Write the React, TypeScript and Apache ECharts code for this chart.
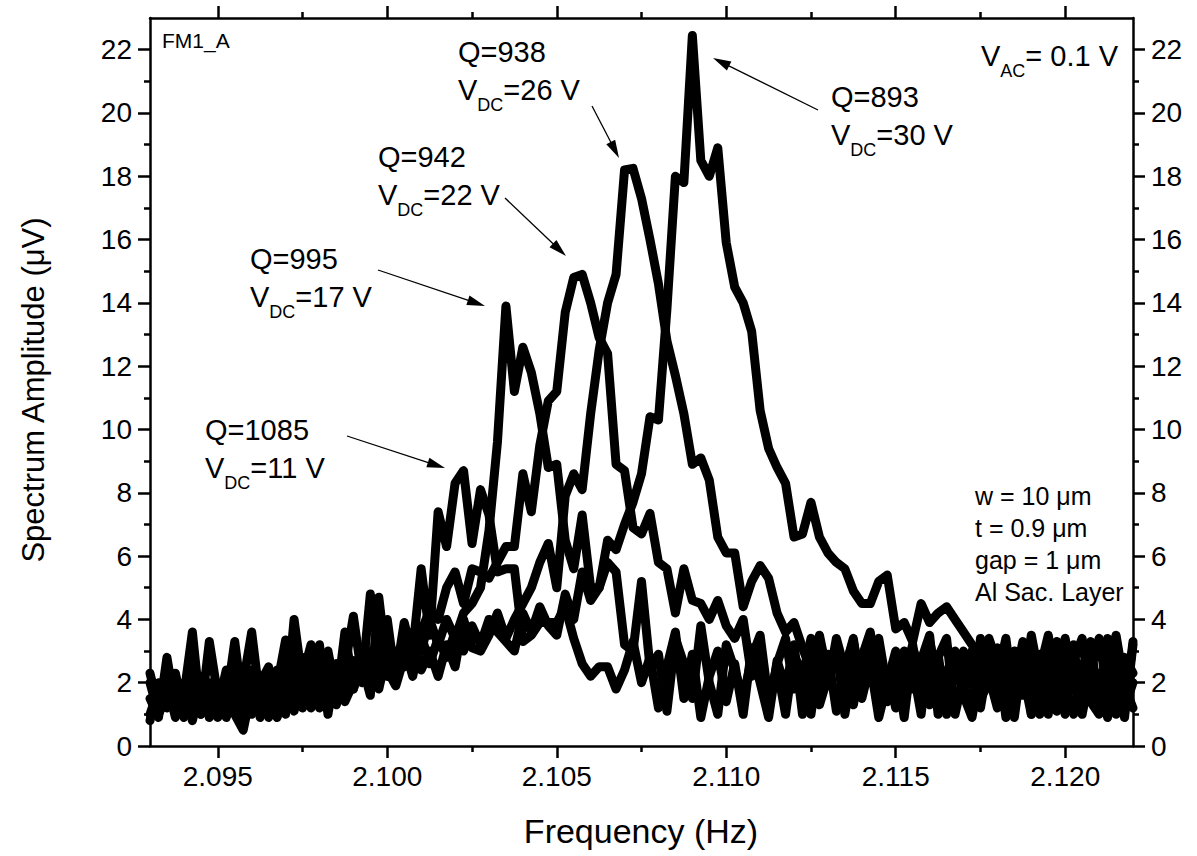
import React, { useEffect, useRef } from "react";
import * as echarts from "echarts";

// ---- data (frequency grid: uniform sampling of the spectrum analyser) ----
const FREQ_START = 2.093;
const FREQ_STEP = 0.00025;
const X_MIN = 2.093;
const X_MAX = 2.122;
const Y_MIN = 0;
const Y_MAX = 23;

const X_MAJOR = [2.095, 2.1, 2.105, 2.11, 2.115, 2.12];
const X_MINOR = [2.0975, 2.1025, 2.1075, 2.1125, 2.1175];
const Y_MAJOR = [0, 2, 4, 6, 8, 10, 12, 14, 16, 18, 20, 22];
const Y_MINOR = [1, 3, 5, 7, 9, 11, 13, 15, 17, 19, 21];

// Q=1085, VDC=11 V
const AMP_11V = [
  1.5, 0.9, 2.8, 1.2, 2.0, 0.8, 1.9, 1.0, 2.0, 1.4,
  3.3, 1.2, 2.1, 0.9, 1.8, 1.0, 2.4, 1.1, 2.2, 3.2,
  1.6, 2.2, 1.3, 2.5, 4.1, 2.2, 3.0, 1.8, 3.0, 2.4,
  3.3, 3.0, 5.6, 3.5, 7.4, 6.3, 8.3, 8.7, 6.4, 8.1,
  7.3, 5.5, 5.6, 5.6, 3.3, 3.5, 3.9, 3.9, 3.9, 4.4,
  3.4, 2.6, 2.2, 2.5, 2.5, 1.8, 2.4, 3.3, 2.0, 2.8,
  1.2, 2.5, 3.6, 1.5, 2.9, 0.9, 2.2, 3.0, 1.4, 2.6,
  1.0, 3.1, 2.0, 0.9, 2.7, 1.8, 3.2, 1.0, 2.3, 1.6,
  2.9, 1.1, 2.4, 3.4, 1.5, 2.6, 0.9, 2.0, 3.0, 1.3,
  2.5, 1.0, 3.3, 2.1, 1.2, 2.8, 1.6, 0.9, 2.4, 3.2,
  1.4, 2.2, 0.9, 2.9, 1.7, 2.5, 1.0, 3.3, 1.8, 1.0,
  2.6, 1.5, 2.3, 0.9, 3.0, 1.2, 2.0,
];

// Q=995, VDC=17 V
const AMP_17V = [
  2.3, 1.2, 2.0, 0.9, 1.6, 3.6, 1.0, 2.0, 1.2, 2.4,
  1.0, 0.5, 1.8, 1.0, 2.2, 1.4, 1.0, 4.0, 2.0, 1.2,
  2.4, 1.3, 2.6, 1.8, 2.7, 2.0, 4.8, 3.0, 2.2, 3.0,
  2.5, 3.5, 3.0, 4.0, 3.2, 4.0, 3.4, 4.2, 4.5, 5.0,
  6.8, 9.6, 13.9, 11.2, 12.6, 11.8, 10.5, 8.8, 8.9, 6.5,
  5.6, 7.3, 5.0, 5.0, 5.8, 5.5, 3.2, 3.0, 5.2, 2.5,
  2.9, 1.1, 3.4, 2.6, 1.5, 3.8, 2.0, 1.0, 3.2, 2.4,
  1.5, 2.8, 3.5, 1.4, 2.5, 1.0, 2.9, 2.2, 3.4, 1.3,
  2.2, 3.1, 1.0, 2.6, 1.8, 3.3, 2.1, 1.4, 2.7, 0.9,
  3.1, 2.3, 1.3, 2.8, 3.4, 1.0, 2.2, 3.0, 1.5, 2.0,
  3.1, 0.9, 2.4, 1.6, 3.5, 2.1, 2.8, 1.1, 2.5, 3.2,
  1.0, 2.4, 3.4, 1.7, 2.2, 0.9, 3.2,
];

// Q=942, VDC=22 V
const AMP_22V = [
  1.0, 1.8, 1.3, 2.2, 1.0, 2.3, 1.4, 1.2, 0.9, 2.0,
  1.5, 2.0, 3.6, 1.4, 1.0, 2.4, 1.2, 2.0, 1.3, 2.4,
  1.2, 3.0, 1.6, 2.2, 1.8, 3.0, 2.2, 3.3, 2.6, 2.2,
  3.9, 2.8, 3.6, 4.3, 4.0, 5.0, 5.5, 4.5, 5.6, 5.5,
  5.3, 5.8, 6.3, 6.3, 8.6, 7.4, 9.5, 10.9, 11.2, 13.7,
  14.8, 14.9, 14.0, 12.9, 12.4, 8.9, 8.7, 6.9, 6.7, 7.35,
  5.8, 5.6, 4.2, 5.6, 4.6, 4.5, 4.0, 4.6, 3.8, 3.4,
  4.0, 2.2, 3.0, 1.2, 2.6, 3.4, 1.8, 2.5, 1.0, 2.9,
  1.9, 3.4, 2.4, 1.3, 2.8, 3.6, 1.7, 2.4, 1.2, 3.0,
  1.8, 2.7, 3.5, 1.0, 2.3, 3.0, 2.0, 1.0, 3.4, 2.2,
  1.2, 2.9, 2.0, 3.3, 1.0, 2.4, 3.5, 1.9, 1.0, 2.7,
  3.4, 1.4, 1.0, 2.6, 3.5, 1.9, 1.2,
];

// Q=938, VDC=26 V
const AMP_26V = [
  2.0, 1.0, 1.6, 2.3, 1.0, 2.0, 1.0, 3.3, 1.6, 0.9,
  2.2, 1.0, 2.4, 1.6, 0.9, 1.9, 3.35, 1.4, 2.8, 1.6,
  1.3, 2.4, 1.4, 3.6, 1.8, 2.6, 1.6, 4.7, 2.4, 1.9,
  2.8, 3.6, 2.4, 3.0, 2.2, 3.2, 2.5, 4.0, 3.1, 3.0,
  3.5, 4.2, 3.4, 4.0, 4.5, 5.0, 5.8, 6.4, 5.0, 7.9,
  8.6, 8.1, 10.5, 12.5, 14.0, 14.9, 18.2, 18.25, 17.3, 16.0,
  14.6, 12.8, 11.7, 10.5, 8.9, 9.1, 8.4, 6.6, 6.1, 6.1,
  4.4, 5.2, 5.7, 5.3, 4.2, 3.6, 3.9, 3.1, 2.4, 3.5,
  2.2, 3.0, 2.5, 3.3, 2.0, 2.9, 3.4, 1.8, 2.6, 2.2,
  3.2, 1.4, 2.6, 2.9, 1.0, 2.4, 3.0, 2.0, 1.2, 2.8,
  2.2, 3.4, 1.3, 2.3, 2.9, 1.0, 2.2, 2.6, 3.4, 1.8,
  2.1, 3.3, 1.2, 2.5, 1.0, 2.8, 2.3,
];

// Q=893, VDC=30 V
const AMP_30V = [
  0.8, 2.0, 1.2, 1.8, 0.9, 1.6, 2.2, 0.9, 1.8, 1.0,
  2.2, 1.6, 1.0, 2.0, 2.5, 0.9, 1.8, 2.6, 1.2, 2.0,
  3.2, 1.0, 2.6, 1.4, 2.0, 2.4, 2.0, 2.6, 4.0, 2.0,
  3.2, 2.2, 3.5, 2.6, 3.4, 2.8, 3.6, 3.0, 3.8, 3.2,
  4.0, 3.6, 3.3, 3.0, 4.2, 3.6, 4.4, 3.8, 3.5, 4.8,
  4.0, 5.5, 4.6, 5.0, 6.5, 6.2, 7.0, 7.7, 8.6, 10.4,
  10.3, 13.8, 18.0, 17.8, 22.45, 18.5, 18.0, 18.9, 15.9, 14.5,
  14.0, 13.1, 10.6, 9.4, 8.8, 8.3, 6.6, 6.7, 7.7, 6.6,
  6.1, 5.8, 5.6, 4.9, 4.5, 4.5, 5.2, 5.4, 3.7, 3.9,
  3.3, 4.5, 3.9, 4.2, 4.4, 4.0, 3.6, 3.2, 2.8, 3.4,
  2.6, 1.6, 3.0, 2.3, 1.0, 2.9, 2.0, 1.4, 3.2, 2.5,
  1.8, 2.9, 1.3, 3.4, 2.4, 1.1, 3.3,
];

const SERIES_LIST = [
  { name: "VDC=11 V", values: AMP_11V },
  { name: "VDC=17 V", values: AMP_17V },
  { name: "VDC=22 V", values: AMP_22V },
  { name: "VDC=26 V", values: AMP_26V },
  { name: "VDC=30 V", values: AMP_30V },
];

// ---- styling ----
const FONT = "'Liberation Sans', Arial, Helvetica, sans-serif";
const AXIS_W = 2.5;
const MAJOR_LEN = 12;
const MINOR_LEN = 6;
const TICK_FONT = 28;
const ANN_FONT = 29;
const SUB_FONT = 18;

let measureCtx: CanvasRenderingContext2D | null = null;
function textWidth(text: string, size: number): number {
  if (!measureCtx) {
    const c = document.createElement("canvas");
    measureCtx = c.getContext("2d");
  }
  if (!measureCtx) return text.length * size * 0.55;
  measureCtx.font = `${size}px ${FONT}`;
  return measureCtx.measureText(text).width;
}

function txt(x: number, y: number, text: string, size: number, extra: any = {}) {
  return {
    type: "text",
    x,
    y,
    silent: true,
    z: 10,
    style: {
      text,
      fontSize: size,
      fontFamily: FONT,
      fill: "#000",
      align: "left",
      verticalAlign: "middle",
      ...extra,
    },
  };
}

function subLabel(x: number, y: number, main: string, sub: string, rest: string) {
  const w1 = textWidth(main, ANN_FONT);
  const w2 = textWidth(sub, SUB_FONT);
  return [
    txt(x, y, main, ANN_FONT),
    txt(x + w1, y + 15, sub, SUB_FONT),
    txt(x + w1 + w2, y, rest, ANN_FONT),
  ];
}

function arrow(x1: number, y1: number, x2: number, y2: number) {
  const ang = Math.atan2(y2 - y1, x2 - x1);
  const L = 18;
  const W = 5;
  const bx = x2 - L * Math.cos(ang);
  const by = y2 - L * Math.sin(ang);
  const px = -Math.sin(ang) * W;
  const py = Math.cos(ang) * W;
  return [
    {
      type: "line",
      silent: true,
      z: 10,
      shape: { x1, y1, x2: bx + 2 * Math.cos(ang), y2: by + 2 * Math.sin(ang) },
      style: { stroke: "#000", lineWidth: 1.3 },
    },
    {
      type: "polygon",
      silent: true,
      z: 10,
      shape: { points: [[x2, y2], [bx + px, by + py], [bx - px, by - py]] },
      style: { fill: "#000" },
    },
  ];
}

function xAxisDef(position: string, ticks: number[], len: number, showLine: boolean, showLabels: boolean) {
  return {
    type: "value",
    position,
    min: X_MIN,
    max: X_MAX,
    axisLine: { show: showLine, onZero: false, lineStyle: { color: "#000", width: AXIS_W } },
    axisTick: {
      show: true,
      inside: false,
      customValues: ticks,
      length: len,
      lineStyle: { color: "#000", width: AXIS_W },
    },
    axisLabel: showLabels
      ? {
          show: true,
          customValues: ticks,
          formatter: (v: number) => v.toFixed(3),
          color: "#000",
          fontSize: TICK_FONT,
          fontFamily: FONT,
          margin: 16,
        }
      : { show: false },
    splitLine: { show: false },
    minorTick: { show: false },
  };
}

function yAxisDef(position: string, ticks: number[], len: number, showLine: boolean, showLabels: boolean) {
  return {
    type: "value",
    position,
    min: Y_MIN,
    max: Y_MAX,
    axisLine: { show: showLine, onZero: false, lineStyle: { color: "#000", width: AXIS_W } },
    axisTick: {
      show: true,
      inside: false,
      customValues: ticks,
      length: len,
      lineStyle: { color: "#000", width: AXIS_W },
    },
    axisLabel: showLabels
      ? {
          show: true,
          customValues: ticks,
          formatter: (v: number) => String(Math.round(v)),
          color: "#000",
          fontSize: TICK_FONT,
          fontFamily: FONT,
          margin: 18,
        }
      : { show: false },
    splitLine: { show: false },
    minorTick: { show: false },
  };
}

export default function App() {
  const ref = useRef<HTMLDivElement>(null);

  useEffect(() => {
    if (!ref.current) return;
    const chart = echarts.init(ref.current, undefined, { renderer: "svg" });

    const series = SERIES_LIST.map((s) => ({
      name: s.name,
      type: "line",
      xAxisIndex: 0,
      yAxisIndex: 0,
      showSymbol: false,
      symbol: "none",
      silent: true,
      clip: true,
      lineStyle: { color: "#000", width: 9, join: "round", cap: "round" },
      data: s.values.map((v, i) => [FREQ_START + i * FREQ_STEP, v]),
    }));

    const graphic: any[] = [
      txt(162, 40, "FM1_A", 21),
      txt(458, 52, "Q=938", ANN_FONT),
      ...subLabel(458, 90, "V", "DC", "=26 V"),
      txt(378, 157, "Q=942", ANN_FONT),
      ...subLabel(378, 195, "V", "DC", "=22 V"),
      txt(250, 259, "Q=995", ANN_FONT),
      ...subLabel(250, 297, "V", "DC", "=17 V"),
      txt(205, 430, "Q=1085", ANN_FONT),
      ...subLabel(205, 468, "V", "DC", "=11 V"),
      txt(831, 97, "Q=893", ANN_FONT),
      ...subLabel(831, 135, "V", "DC", "=30 V"),
      ...subLabel(981, 56, "V", "AC", "= 0.1 V"),
      txt(975, 496, "w = 10 μm", 25),
      txt(975, 528, "t = 0.9 μm", 25),
      txt(975, 560, "gap = 1 μm", 25),
      txt(975, 592, "Al Sac. Layer", 25),
      ...arrow(818, 110, 713, 58),
      ...arrow(592, 106, 619, 158),
      ...arrow(505, 198, 566, 256),
      ...arrow(378, 270, 485, 306),
      ...arrow(347, 436, 445, 468),
      txt(641, 831, "Frequency (Hz)", 34, { align: "center" }),
      {
        type: "text",
        x: 33,
        y: 390,
        rotation: Math.PI / 2,
        silent: true,
        style: {
          text: "Spectrum Amplitude (μV)",
          fontSize: 31,
          fontFamily: FONT,
          fill: "#000",
          align: "center",
          verticalAlign: "middle",
        },
      },
    ];

    chart.setOption({
      animation: false,
      backgroundColor: "#fff",
      grid: { left: 150, top: 18, width: 983, height: 728, containLabel: false },
      xAxis: [
        xAxisDef("bottom", X_MAJOR, MAJOR_LEN, true, true),
        xAxisDef("bottom", X_MINOR, MINOR_LEN, false, false),
        xAxisDef("top", X_MAJOR, MAJOR_LEN, true, false),
        xAxisDef("top", X_MINOR, MINOR_LEN, false, false),
      ],
      yAxis: [
        yAxisDef("left", Y_MAJOR, MAJOR_LEN, true, true),
        yAxisDef("left", Y_MINOR, MINOR_LEN, false, false),
        yAxisDef("right", Y_MAJOR, MAJOR_LEN, true, true),
        yAxisDef("right", Y_MINOR, MINOR_LEN, false, false),
      ],
      series,
      graphic,
    });

    return () => {
      chart.dispose();
    };
  }, []);

  return (
    <div
      ref={ref}
      style={{ position: "absolute", left: 0, top: 0, width: 1197, height: 856 }}
    />
  );
}
